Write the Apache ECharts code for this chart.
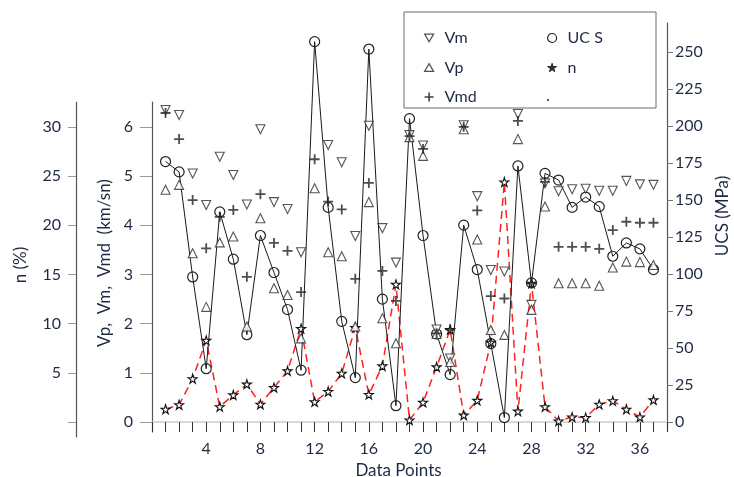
<!DOCTYPE html>
<html>
<head>
<meta charset="utf-8">
<script src="https://cdn.jsdelivr.net/npm/echarts@6/dist/echarts.min.js"></script>
<style>html,body{margin:0;padding:0;background:#fff;}#c{width:734px;height:477px;}</style>
</head>
<body>
<div id="c"></div>
<script>
// Data point numbers
var points = [1,2,3,4,5,6,7,8,9,10,11,12,13,14,15,16,17,18,19,20,21,22,23,24,25,26,27,28,29,30,31,32,33,34,35,36,37];
// Vm (km/sn)
var vm = [6.34,6.24,5.05,4.41,5.39,5.02,4.42,5.95,4.47,4.33,3.45,6.78,5.63,5.28,3.78,6.02,3.94,3.24,5.83,5.62,1.88,1.29,6.03,4.59,3.09,3.06,6.26,2.38,4.85,4.69,4.73,4.74,4.70,4.70,4.90,4.83,4.82];
// Vp (km/sn)
var vp = [4.72,4.82,3.43,2.34,3.65,3.77,1.94,4.14,2.72,2.58,1.70,4.75,3.45,3.37,1.94,4.47,2.11,1.60,5.79,5.41,1.79,1.22,5.95,3.71,1.87,1.77,5.75,2.28,4.38,2.82,2.82,2.82,2.77,3.14,3.26,3.25,3.19];
// Vmd (km/sn)
var vmd = [6.28,5.75,4.51,3.53,4.17,4.31,2.95,4.63,3.64,3.48,2.64,5.34,4.48,4.32,2.91,4.86,3.07,2.46,5.81,5.55,1.80,1.88,6.00,4.30,2.56,2.51,6.12,2.82,4.88,3.56,3.56,3.56,3.52,3.90,4.07,4.05,4.05];
// UCS (MPa)
var ucs = [176,169,98,36,142,110,59,126,101,76,35,257,145,68,30,252,83,11,205,126,59.5,32,133,103,53,3,173,94,168,163.5,145,152,145.5,112,121,117,103];
// n (%)
var nPor = [1.3,1.75,4.4,8.3,1.55,2.75,3.85,1.8,3.5,5.2,9.5,2.05,3.1,4.95,9.6,2.8,5.7,14.0,0.2,2.0,5.6,9.4,0.7,2.2,8.1,24.4,1.1,14.1,1.55,0.1,0.5,0.45,1.8,2.15,1.3,0.5,2.25];
// Tick labels
var xLabelTicks = [4,8,12,16,20,24,28,32,36];
var vTicks = [0,1,2,3,4,5,6];
var nTicks = [0,5,10,15,20,25,30];
var nLabels = [5,10,15,20,25,30];
var ucsTicks = [0,25,50,75,100,125,150,175,200,225,250];

var FONT = 'Lato';
var TXT = '#1e2a44';
var STAR = 'path://M50,0L61,35L98,35L68,57L79,91L50,70L21,91L32,57L2,35L39,35Z';
var PLUS = 'path://M4.1,0H5.9V4.1H10V5.9H5.9V10H4.1V5.9H0V4.1H4.1Z';
var DOWN = 'path://M0,0H10L5,8.66Z';
var UP = 'path://M5,0L10,8.66H0Z';

function pairs(arr){ return points.map(function(p,i){ return [p, arr[i]]; }); }

var chart = echarts.init(document.getElementById('c'), null, {renderer:'canvas'});
var hollow = {color:'#fff', borderColor:'#2a2a2a', borderWidth:1.1};

chart.setOption({
  animation:false,
  backgroundColor:'#fff',
  textStyle:{fontFamily:FONT, color:TXT},
  grid:[
    {left:152, right:67, top:102, bottom:45, containLabel:false, outerBoundsMode:'none'},
    {left:152, right:67, top:102, bottom:40, containLabel:false, outerBoundsMode:'none'},
    {left:152, right:67, top:23, bottom:46, containLabel:false, outerBoundsMode:'none'}
  ],
  xAxis:[
    {gridIndex:0, type:'value', min:0, max:38, interval:1,
     axisLine:{onZero:true, lineStyle:{color:'#cccccc', width:1.5}},
     axisTick:{show:true, length:10, lineStyle:{color:'#333'}},
     axisLabel:{fontSize:16, color:TXT, fontFamily:FONT, margin:9,
       formatter:function(v){ return xLabelTicks.indexOf(v) >= 0 ? String(v) : ''; }},
     splitLine:{show:false},
     name:'Data Points', nameLocation:'middle', nameGap:29,
     nameTextStyle:{fontSize:17, color:TXT, fontFamily:FONT, padding:[0,22,0,0]}},
    {gridIndex:1, type:'value', min:0, max:38, show:false},
    {gridIndex:2, type:'value', min:0, max:38, show:false}
  ],
  yAxis:[
    {gridIndex:0, type:'value', position:'left', min:-0.203, max:6.504,
     axisLine:{show:true, onZero:false, lineStyle:{color:'#555', width:1.2}},
     axisTick:{show:true, length:12, customValues:vTicks, lineStyle:{color:'#999'}},
     axisLabel:{customValues:vTicks, fontSize:16, color:TXT, fontFamily:FONT, margin:19},
     splitLine:{show:false},
     name:'Vp,  Vm,  Vmd  (km/sn)', nameLocation:'middle', nameGap:35, nameRotate:90,
     nameTextStyle:{fontSize:17, color:TXT, fontFamily:FONT, padding:[0,0,0,8]}},
    {gridIndex:1, type:'value', position:'left', offset:76, min:-1.525, max:32.54,
     axisLine:{show:true, onZero:false, lineStyle:{color:'#555', width:1.2}},
     axisTick:{show:true, length:8, customValues:nTicks, lineStyle:{color:'#999'}},
     axisLabel:{customValues:nLabels, fontSize:16, color:TXT, fontFamily:FONT, margin:15},
     splitLine:{show:false},
     name:'n (%)', nameLocation:'middle', nameGap:47, nameRotate:90,
     nameTextStyle:{fontSize:17, color:TXT, fontFamily:FONT, padding:[0,0,0,9]}},
    {gridIndex:2, type:'value', position:'right', min:-6.08, max:269.6,
     axisLine:{show:true, onZero:false, lineStyle:{color:'#555', width:1.2}},
     axisTick:{show:true, length:6, customValues:ucsTicks, lineStyle:{color:'#777'}},
     axisLabel:{customValues:ucsTicks, fontSize:16, color:TXT, fontFamily:FONT, margin:8},
     splitLine:{show:false},
     name:'UCS (MPa)', nameLocation:'middle', nameGap:30, nameRotate:90,
     nameTextStyle:{fontSize:17, color:TXT, fontFamily:FONT, padding:[0,0,0,22]}}
  ],
  legend:[
    {left:419, top:25, orient:'vertical', itemWidth:9, itemHeight:9, itemGap:13.5,
     textStyle:{fontSize:16, color:TXT, fontFamily:FONT, padding:[0,0,0,6]},
     data:[
       {name:'Vm', icon:DOWN, itemStyle:{color:'#fff', borderColor:'#222', borderWidth:1.2}},
       {name:'Vp', icon:UP, itemStyle:{color:'#fff', borderColor:'#222', borderWidth:1.2}},
       {name:'Vmd', icon:PLUS, itemStyle:{color:'#111', borderWidth:0}}
     ]},
    {left:542, top:25, orient:'vertical', itemWidth:9, itemHeight:9, itemGap:13.5,
     textStyle:{fontSize:16, color:TXT, fontFamily:FONT, padding:[0,0,0,6]},
     data:[
       {name:'UC S', icon:'circle', itemStyle:{color:'#fff', borderColor:'#222', borderWidth:1.2}},
       {name:'n', icon:STAR, itemStyle:{color:'#333', borderColor:'#111', borderWidth:0.8}}
     ]}
  ],
  graphic:[
    {type:'rect', z:-1, shape:{x:404, y:12, width:252, height:96},
     style:{fill:'#fff', stroke:'#6a6a6a', lineWidth:1}},
    {type:'circle', z:10, shape:{cx:548, cy:100, r:1.1}, style:{fill:'#333'}}
  ],
  series:[
    {name:'n', type:'line', xAxisIndex:1, yAxisIndex:1, data:pairs(nPor),
     symbol:STAR, symbolSize:9, showAllSymbol:true, z:3,
     lineStyle:{color:'#ff2020', width:1.5, type:[8,5]},
     itemStyle:{color:'#fff', borderColor:'#111', borderWidth:1.1}},
    {name:'UC S', type:'line', xAxisIndex:2, yAxisIndex:2, data:pairs(ucs),
     symbol:'circle', symbolSize:10, showAllSymbol:true, z:4,
     lineStyle:{color:'#1a1a1a', width:1},
     itemStyle:{color:'rgba(255,255,255,0)', borderColor:'#222', borderWidth:1.2}},
    {name:'Vm', type:'scatter', xAxisIndex:0, yAxisIndex:0, data:pairs(vm),
     symbol:'triangle', symbolRotate:180, symbolSize:9, z:5, itemStyle:hollow},
    {name:'Vp', type:'scatter', xAxisIndex:0, yAxisIndex:0, data:pairs(vp),
     symbol:'triangle', symbolSize:9, z:5, itemStyle:hollow},
    {name:'Vmd', type:'scatter', xAxisIndex:0, yAxisIndex:0, data:pairs(vmd),
     symbol:PLUS, symbolSize:10, z:6, itemStyle:{color:'#222'}}
  ]
});
</script>
</body>
</html>
